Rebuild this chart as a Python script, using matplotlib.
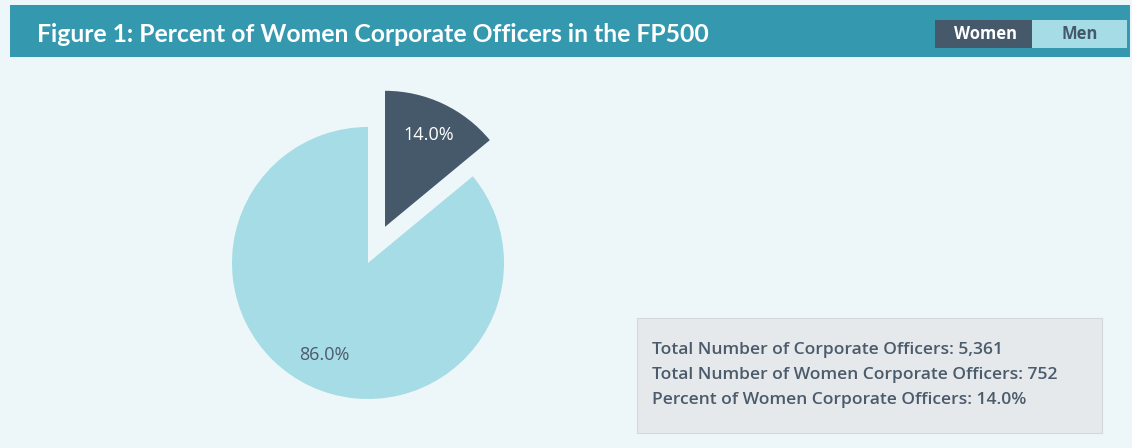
import matplotlib
matplotlib.use("Agg")
import matplotlib.pyplot as plt
from matplotlib.patches import Rectangle

# ---- data ----
categories = ["Women", "Men"]
shares = [14.0, 86.0]
total_officers = "5,361"
women_officers = "752"
women_pct = "14.0%"
title = "Figure 1: Percent of Women Corporate Officers in the FP500"
info_lines = [
    f"Total Number of Corporate Officers: {total_officers}",
    f"Total Number of Women Corporate Officers: {women_officers}",
    f"Percent of Women Corporate Officers: {women_pct}",
]

# ---- styles ----
W, H = 1132, 448
bg = "#edf6f8"
teal = "#3499af"
dark = "#45596b"
light = "#a6dce5"
textdark = "#4b5b6c"
font = ["Open Sans", "DejaVu Sans"]
title_font = ["Lato", "Open Sans", "DejaVu Sans"]

fig = plt.figure(figsize=(W / 100, H / 100), dpi=100, facecolor=bg)
ax = fig.add_axes([0, 0, 1, 1])
ax.set_facecolor(bg)

def py(y):
    return H - y

# pie
wedges, texts, autotexts = ax.pie(
    shares, colors=[dark, light], startangle=90, counterclock=False,
    explode=[40, 0], radius=136, center=(368, py(263)),
    autopct="%.1f%%", pctdistance=0.75,
    textprops=dict(fontsize=13, family=font, fontweight="medium"),
    wedgeprops=dict(linewidth=0),
)
autotexts[0].set_color("white")
autotexts[1].set_color(textdark)

ax.set_xlim(0, W)
ax.set_ylim(0, H)
ax.set_aspect("equal")
ax.axis("off")

# header band
ax.add_patch(Rectangle((10, py(57)), 1120, 52, facecolor=teal, edgecolor="none", zorder=1))
ax.text(37, py(34), title, color="white", fontsize=17.8, family=title_font,
        fontweight="bold", va="center", ha="left", zorder=2)

# legend boxes
ax.add_patch(Rectangle((935, py(48)), 97, 28, facecolor=dark, edgecolor="none", zorder=2))
ax.add_patch(Rectangle((1032, py(48)), 95, 28, facecolor=light, edgecolor="none", zorder=2))
ax.text(986, py(34), categories[0], color="white", fontsize=12, fontweight="bold",
        family=font, ha="center", va="center", zorder=3)
ax.text(1080, py(34), categories[1], color=dark, fontsize=12, fontweight="bold",
        family=font, ha="center", va="center", zorder=3)

# info box
ax.add_patch(Rectangle((637, py(433)), 465, 115, facecolor="#e6e9eb",
                       edgecolor="#d4d8dc", linewidth=0.8, zorder=1))
for i, line in enumerate(info_lines):
    ax.text(652, py(350 + 25 * i), line, color=textdark, fontsize=12.6,
            fontweight="semibold", family=font, ha="left", va="center", zorder=2)

fig.savefig("out.png", dpi=100, facecolor=bg)
